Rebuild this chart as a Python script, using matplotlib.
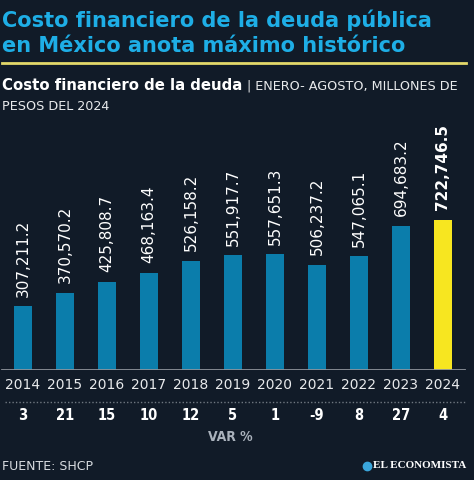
import matplotlib.pyplot as plt
import matplotlib.transforms as mtransforms

# datos
years = ["2014", "2015", "2016", "2017", "2018", "2019", "2020", "2021", "2022", "2023", "2024"]
values = [307211.2, 370570.2, 425808.7, 468163.4, 526158.2, 551917.7, 557651.3, 506237.2, 547065.1, 694683.2, 722746.5]
var_pct = ["3", "21", "15", "10", "12", "5", "1", "-9", "8", "27", "4"]

bg = "#111b28"
blue = "#0b7dab"
yellow = "#f7e620"
cyan = "#1eaee6"

W, H = 474, 480
fig = plt.figure(figsize=(W / 100, H / 100), dpi=100, facecolor=bg)


def fy(px):
    return 1 - px / H


def fx(px):
    return px / W


# ejes: base de barras en y=370px, primer barra centrada en x=23px, paso 42px
ax = fig.add_axes([0, fy(370), 1, 250 / H])
ax.set_facecolor(bg)
x = list(range(len(years)))
colors = [blue] * (len(years) - 1) + [yellow]
ax.bar(x, values, width=0.43, color=colors, zorder=2)
ax.set_xlim(-23 / 42, -23 / 42 + W / 42)
ax.set_ylim(0, max(values) * 250 / 150)
for s in ax.spines.values():
    s.set_visible(False)
ax.set_yticks([])
ax.set_xticks(x, years)
ax.tick_params(axis="x", length=0, pad=6, labelsize=10, labelcolor="#e8eaec")
ax.axhline(0, xmin=fx(2), xmax=fx(464), color="#8d939b", lw=2, zorder=3)

for i, v in enumerate(values):
    last = i == len(values) - 1
    ax.annotate(f"{v:,.1f}", (i, v), xytext=(0, 7), textcoords="offset points",
                rotation=90, ha="center", va="bottom", fontsize=11,
                color="white", fontweight="bold" if last else "normal")

# fila de variaciones
tr = mtransforms.blended_transform_factory(ax.transData, fig.transFigure)
fig.add_artist(plt.Line2D([fx(5), fx(466)], [fy(402), fy(402)], color="#6f7780",
                          lw=1, linestyle=(0, (1, 1.5))))
for i, p in enumerate(var_pct):
    ax.text(i, fy(416), p, transform=tr, ha="center", va="center", fontsize=10.5,
            fontweight="bold", color="white", fontstretch="condensed", clip_on=False)
fig.text(fx(230), fy(437), "VAR %", ha="center", va="center", fontsize=10,
         fontweight="bold", color="#aab2bc", fontstretch="condensed")

# titulo
fig.text(fx(2), fy(27), "Costo financiero de la deuda pública", fontsize=15,
         fontweight="bold", color=cyan, va="baseline", ha="left")
fig.text(fx(2), fy(52), "en México anota máximo histórico", fontsize=15,
         fontweight="bold", color=cyan, va="baseline", ha="left")
fig.add_artist(plt.Line2D([fx(2), fx(466)], [fy(62.5), fy(62.5)], color="#e3d86a", lw=2))

# subtitulo
sub = fig.text(fx(2), fy(90), "Costo financiero de la deuda", fontsize=10.7,
               fontweight="bold", color="white", va="baseline", ha="left")
fig.canvas.draw()
bb = sub.get_window_extent()
fig.text(bb.x1 / W + fx(5), fy(90), "| ENERO- AGOSTO, MILLONES DE", fontsize=9.2,
         color="#e8eaec", va="baseline", ha="left")
fig.text(fx(2), fy(110), "PESOS DEL 2024", fontsize=9.2, color="#e8eaec",
         va="baseline", ha="left")

# pie
fig.text(fx(2), fy(466), "FUENTE: SHCP", fontsize=9, color="#d8dce0", va="center", ha="left")
logo = fig.text(fx(466), fy(466), "EL ECONOMISTA", fontsize=8, fontweight="bold",
                family="Liberation Serif", color="white", va="center", ha="right")
fig.canvas.draw()
lb = logo.get_window_extent()
fig.add_artist(plt.Line2D([(lb.x0 - 6) / W], [fy(466)], marker="o", markersize=6,
                          color="#3aa6dc", linestyle="none"))

fig.savefig("out.png", dpi=100, facecolor=bg)
